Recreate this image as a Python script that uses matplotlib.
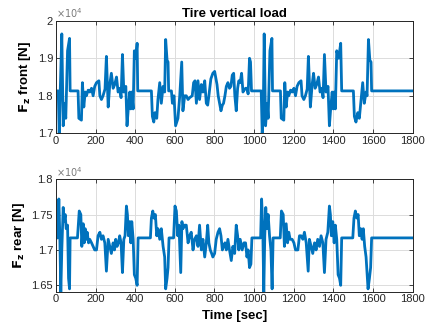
import numpy as np
import matplotlib
matplotlib.use("Agg")
import matplotlib.pyplot as plt

plt.rcParams['font.family'] = ['Liberation Sans', 'DejaVu Sans']

# time [sec] and load [x1e4 N]
t_front = [0, 12, 17, 22, 30, 37, 45, 50, 59, 69, 72, 112, 116, 129, 134, 141, 148,
           154, 163, 171, 180, 188, 196, 205, 217, 222, 230, 238, 248, 255, 264, 272,
           280, 289, 297, 306, 314, 322, 329, 336, 343, 353, 359, 366, 373, 378, 383,
           390, 396, 403, 410, 413, 482, 487, 494, 500, 509, 515, 524, 532, 541, 549,
           554, 561, 566, 569, 583, 588, 596, 604, 616, 625, 635, 641, 650, 658, 667,
           675, 688, 695, 702, 709, 717, 725, 734, 742, 751, 759, 766, 772, 782, 792,
           801, 806, 813, 819, 826, 833, 840, 846, 853, 860, 868, 876, 883, 890, 897,
           903, 910, 917, 923, 930, 937, 944, 950, 957, 964, 970, 977, 982, 987, 1036,
           1041, 1046, 1051, 1058, 1066, 1071, 1080, 1090, 1093, 1133, 1137, 1150, 1155,
           1162, 1169, 1175, 1184, 1192, 1201, 1209, 1217, 1226, 1237, 1242, 1251, 1259,
           1268, 1274, 1284, 1293, 1300, 1308, 1316, 1325, 1333, 1341, 1348, 1355, 1363,
           1373, 1380, 1387, 1394, 1399, 1404, 1410, 1417, 1427, 1437, 1442, 1501, 1506,
           1514, 1523, 1531, 1540, 1548, 1556, 1565, 1570, 1577, 1584, 1590, 1593, 1800]
fz_front = [1.813, 1.813, 1.70, 1.81, 1.965, 1.72, 1.78, 1.74, 1.92, 1.953, 1.813, 1.813,
            1.74, 1.735, 1.835, 1.77, 1.81, 1.80, 1.815, 1.81, 1.82, 1.80, 1.825, 1.835,
            1.84, 1.80, 1.79, 1.80, 1.818, 1.905, 1.77, 1.83, 1.86, 1.82, 1.83, 1.85,
            1.81, 1.82, 1.795, 1.91, 1.81, 1.825, 1.72, 1.77, 1.81, 1.765, 1.81, 1.765,
            1.92, 1.90, 1.94, 1.813, 1.813, 1.745, 1.73, 1.755, 1.74, 1.79, 1.835, 1.78,
            1.825, 1.81, 1.95, 1.895, 1.89, 1.813, 1.813, 1.78, 1.80, 1.72, 1.74, 1.80,
            1.89, 1.76, 1.80, 1.80, 1.79, 1.795, 1.80, 1.835, 1.84, 1.78, 1.84, 1.79,
            1.83, 1.81, 1.84, 1.78, 1.775, 1.80, 1.845, 1.86, 1.865, 1.85, 1.83, 1.80,
            1.78, 1.76, 1.775, 1.78, 1.80, 1.825, 1.835, 1.82, 1.825, 1.855, 1.86, 1.80,
            1.76, 1.82, 1.84, 1.835, 1.86, 1.81, 1.815, 1.82, 1.82, 1.805, 1.90, 1.89,
            1.813, 1.813, 1.70, 1.74, 1.965, 1.72, 1.78, 1.74, 1.92, 1.953, 1.813, 1.813,
            1.74, 1.735, 1.835, 1.77, 1.81, 1.80, 1.815, 1.81, 1.82, 1.80, 1.825, 1.835,
            1.84, 1.80, 1.79, 1.80, 1.818, 1.905, 1.77, 1.83, 1.86, 1.82, 1.83, 1.85,
            1.81, 1.82, 1.795, 1.91, 1.81, 1.825, 1.72, 1.77, 1.81, 1.765, 1.81, 1.765,
            1.92, 1.90, 1.94, 1.813, 1.813, 1.745, 1.73, 1.755, 1.74, 1.79, 1.835, 1.78,
            1.81, 1.80, 1.95, 1.895, 1.89, 1.813, 1.813]

t_rear = [0, 10, 15, 20, 25, 30, 37, 42, 47, 52, 59, 64, 69, 72, 109, 118, 126, 131,
          138, 143, 148, 153, 158, 165, 171, 180, 188, 196, 205, 213, 222, 230, 238,
          247, 255, 264, 272, 280, 289, 296, 302, 309, 316, 322, 329, 336, 343, 349,
          356, 361, 366, 373, 378, 383, 390, 396, 403, 410, 415, 477, 482, 489, 495,
          502, 509, 515, 524, 532, 541, 549, 554, 561, 566, 571, 594, 601, 608, 615,
          621, 630, 636, 641, 650, 658, 667, 675, 683, 692, 700, 709, 717, 725, 734,
          742, 751, 759, 766, 772, 779, 786, 792, 801, 809, 818, 826, 833, 840, 846,
          853, 860, 868, 876, 885, 893, 902, 910, 917, 923, 930, 940, 949, 957, 964,
          970, 977, 984, 989, 1033, 1038, 1044, 1049, 1054, 1059, 1064, 1071, 1078,
          1085, 1091, 1096, 1132, 1138, 1147, 1153, 1162, 1169, 1175, 1182, 1192, 1201,
          1209, 1221, 1229, 1237, 1246, 1254, 1263, 1273, 1279, 1288, 1296, 1305, 1313,
          1321, 1330, 1338, 1347, 1355, 1363, 1372, 1380, 1385, 1390, 1397, 1404, 1410,
          1417, 1424, 1431, 1437, 1442, 1498, 1504, 1511, 1518, 1525, 1531, 1538, 1545,
          1551, 1558, 1565, 1575, 1582, 1588, 1593, 1800]
fz_rear = [1.717, 1.717, 1.772, 1.72, 1.64, 1.70, 1.76, 1.74, 1.75, 1.73, 1.735, 1.66,
           1.645, 1.717, 1.717, 1.755, 1.75, 1.705, 1.737, 1.71, 1.73, 1.715, 1.725, 1.71,
           1.715, 1.71, 1.705, 1.70, 1.70, 1.72, 1.725, 1.715, 1.72, 1.71, 1.67, 1.715,
           1.705, 1.695, 1.71, 1.70, 1.715, 1.705, 1.71, 1.72, 1.71, 1.668, 1.715, 1.72,
           1.762, 1.75, 1.72, 1.74, 1.71, 1.74, 1.715, 1.665, 1.66, 1.65, 1.717, 1.717,
           1.745, 1.755, 1.745, 1.75, 1.72, 1.73, 1.715, 1.73, 1.705, 1.69, 1.645, 1.66,
           1.675, 1.717, 1.717, 1.762, 1.755, 1.72, 1.735, 1.668, 1.74, 1.73, 1.735,
           1.735, 1.71, 1.72, 1.725, 1.70, 1.715, 1.72, 1.705, 1.735, 1.70, 1.715, 1.69,
           1.71, 1.735, 1.71, 1.70, 1.695, 1.69, 1.695, 1.715, 1.725, 1.73, 1.72, 1.70,
           1.705, 1.71, 1.70, 1.715, 1.70, 1.685, 1.705, 1.695, 1.735, 1.72, 1.70, 1.715,
           1.70, 1.71, 1.71, 1.69, 1.70, 1.675, 1.68, 1.717, 1.717, 1.772, 1.73, 1.64,
           1.72, 1.76, 1.73, 1.75, 1.72, 1.70, 1.645, 1.717, 1.717, 1.755, 1.75, 1.705,
           1.737, 1.71, 1.725, 1.715, 1.715, 1.71, 1.70, 1.70, 1.72, 1.72, 1.715, 1.725,
           1.71, 1.67, 1.715, 1.705, 1.695, 1.71, 1.70, 1.715, 1.705, 1.72, 1.71, 1.668,
           1.715, 1.725, 1.762, 1.75, 1.72, 1.74, 1.71, 1.735, 1.715, 1.665, 1.66, 1.65,
           1.717, 1.717, 1.745, 1.755, 1.745, 1.75, 1.72, 1.73, 1.715, 1.73, 1.705, 1.69,
           1.645, 1.66, 1.675, 1.717, 1.717]

x_ticks = [0, 200, 400, 600, 800, 1000, 1200, 1400, 1600, 1800]
front_ticks = [1.7, 1.8, 1.9, 2.0]
front_labels = ['1.7', '1.8', '1.9', '2']
rear_ticks = [1.65, 1.7, 1.75, 1.8]
rear_labels = ['1.65', '1.7', '1.75', '1.8']

line_col = '#0072BD'
txt_col = '#262626'

fig = plt.figure(figsize=(4.33, 3.32), dpi=100)
ax1 = fig.add_axes([0.129, 0.5985, 0.824, 0.339])
ax2 = fig.add_axes([0.129, 0.1214, 0.824, 0.339])


def style(ax, yt, yl, ylim):
    ax.set_xlim(0, 1800)
    ax.set_ylim(*ylim)
    ax.set_xticks(x_ticks)
    ax.set_yticks(yt)
    ax.set_yticklabels(yl)
    ax.grid(True, color='#dcdcdc', lw=0.7)
    ax.set_axisbelow(True)
    ax.tick_params(direction='in', length=3, width=0.6, top=True, right=True,
                   labelsize=8, colors=txt_col, pad=2)
    for s in ax.spines.values():
        s.set_color('#262626')
        s.set_linewidth(0.7)
    ax.text(0.0, 1.005, r'$\times10^4$', transform=ax.transAxes, fontsize=7,
            color='#7a7a7a', ha='left', va='bottom')


ax1.plot(t_front, fz_front, color=line_col, lw=2)
style(ax1, front_ticks, front_labels, (1.7, 2.0))
ax1.set_title('Tire vertical load', fontsize=9.5, fontweight='bold', pad=3)
ax1.set_ylabel(r'$\mathbf{F_z}$ front [N]', fontsize=9.5, fontweight='bold', labelpad=3)

ax2.plot(t_rear, fz_rear, color=line_col, lw=2)
style(ax2, rear_ticks, rear_labels, (1.641, 1.8))
ax2.set_ylabel(r'$\mathbf{F_z}$ rear [N]', fontsize=9.5, fontweight='bold', labelpad=3)
ax2.set_xlabel('Time [sec]', fontsize=9.5, fontweight='bold', labelpad=4)

fig.savefig('out.png', dpi=100)
